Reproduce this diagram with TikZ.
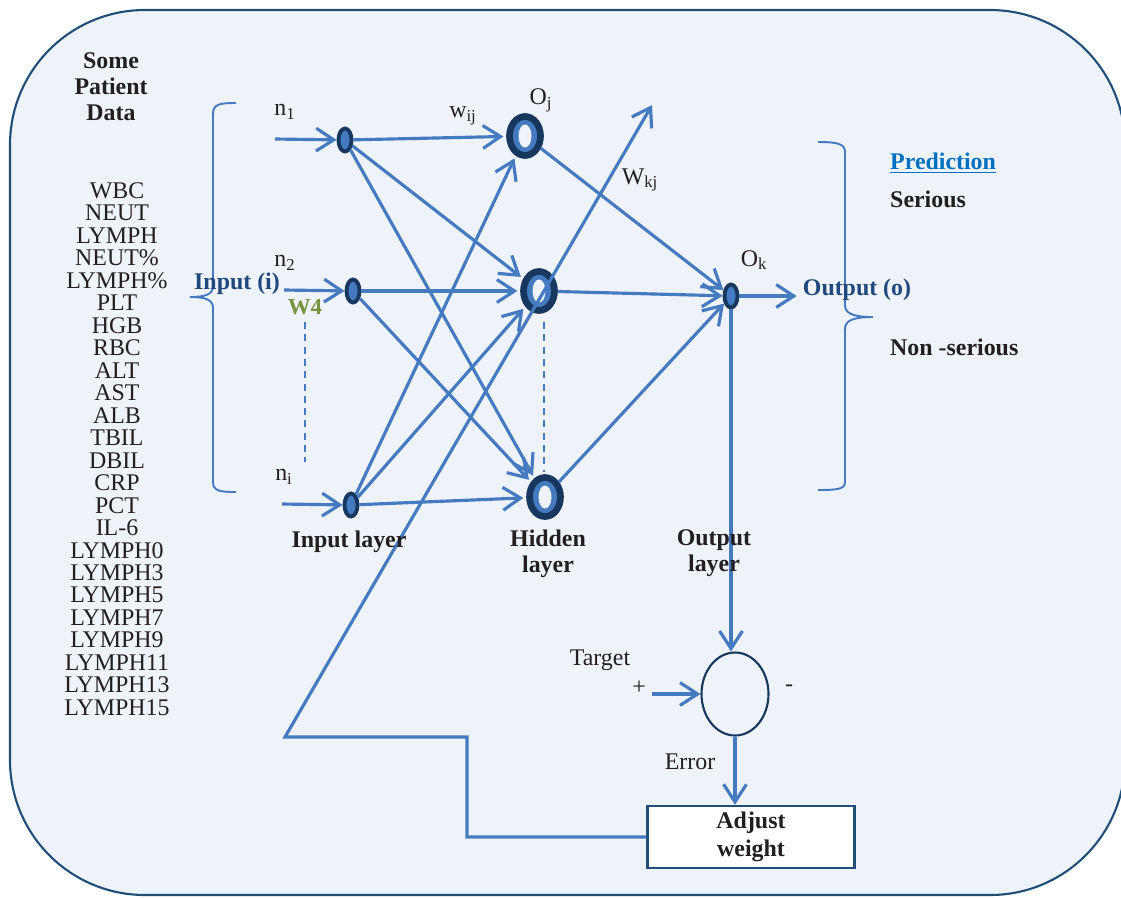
\documentclass[tikz,border=0pt]{standalone}
\usepackage{fontspec}
\setmainfont{Liberation Serif}
\usepackage{xcolor}
\usepackage{tikz}
\usetikzlibrary{shapes.geometric,arrows.meta}

\definecolor{bgfill}{RGB}{238,243,250}
\definecolor{rimblue}{RGB}{31,78,121}
\definecolor{linkblue}{RGB}{68,123,192}
\definecolor{nodenavy}{RGB}{23,55,94}
\definecolor{labelblue}{RGB}{31,73,125}
\definecolor{predblue}{RGB}{0,112,192}
\definecolor{wgreen}{RGB}{119,147,60}
\definecolor{inkdark}{RGB}{35,31,32}

\begin{document}
\begin{tikzpicture}[x=0.02cm,y=-0.02cm,
    font=\fontsize{13.6}{12.8}\selectfont, text=inkdark,
    link/.style={draw=linkblue, line width=1.8pt, -{Straight Barb[length=10pt,width=13pt]}},
    tohid/.style={link, shorten >=1.6pt},
    innode/.style={ellipse, draw=nodenavy, fill=linkblue, line width=2.2pt,
        minimum width=0.26cm, minimum height=0.46cm, inner sep=0pt},
    hidnode/.style={ellipse, draw=nodenavy, fill=linkblue, line width=3.8pt,
        minimum width=0.62cm, minimum height=0.78cm, inner sep=0pt,
        path picture={\fill[bgfill] (path picture bounding box.center) ellipse (0.13cm and 0.23cm);}},
    sumnode/.style={ellipse, draw=nodenavy, line width=1.2pt, minimum width=1.34cm, minimum height=1.66cm},
    adjbox/.style={draw=rimblue, fill=white, line width=1.4pt, minimum width=4.14cm,
        minimum height=1.24cm, align=center, font=\fontsize{13.6}{15.9}\selectfont\bfseries},
    heading/.style={align=center, font=\fontsize{13.6}{14.8}\selectfont\bfseries},
    brace/.style={draw=linkblue, line width=1.1pt},
    guide/.style={draw=linkblue, line width=1.1pt, dash pattern=on 4pt off 3pt}]
    \useasboundingbox (0,0) rectangle (1121,897);
    \clip (0,0) rectangle (1121,897);
    \draw[rimblue, fill=bgfill, line width=1.2pt, rounded corners=2.7cm] (10,10) rectangle (1125,895);

    % patient data
    \node[heading] (title) at (111,87) {Some\\Patient\\Data};
    \node[align=center] (data) at (117,449) {WBC\\NEUT\\LYMPH\\NEUT\%\\LYMPH\%\\PLT\\HGB\\RBC\\ALT\\AST\\ALB\\TBIL\\DBIL\\CRP\\PCT\\IL-6\\LYMPH0\\LYMPH3\\LYMPH5\\LYMPH7\\LYMPH9\\LYMPH11\\LYMPH13\\LYMPH15};

    \draw[brace] (236,103) .. controls (220,103) and (213,104) .. (213,114) -- (213,286)
        .. controls (213,294) and (206,297) .. (190,297) .. controls (206,297) and (213,300) .. (213,308)
        -- (213,482) .. controls (213,491) and (220,492) .. (236,492);
    \draw[brace] (818,142) .. controls (838,142) and (845,144) .. (845,152) -- (845,305)
        .. controls (845,313) and (852,317) .. (873,317) .. controls (852,317) and (845,321) .. (845,329)
        -- (845,482) .. controls (845,489) and (838,490) .. (818,490);

    \node[font=\fontsize{13.6}{14}\selectfont\bfseries, text=labelblue] (inp) at (237,284) {Input (i)};
    \node[font=\fontsize{13.6}{14}\selectfont\bfseries, text=labelblue] (out) at (857,290) {Output (o)};

    % the network
    \node[innode] (n1) at (345,140) {};
    \node[innode] (n2) at (353,291) {};
    \node[innode] (ni) at (351,505) {};
    \node[hidnode] (h1) at (525,136) {};
    \node[hidnode] (h2) at (539,291) {};
    \node[hidnode] (h3) at (545,497) {};
    \node[innode] (ok) at (731,296) {};
    \node[sumnode] (sum) at (735,694) {};
    \node[adjbox] (adj) at (751,837) {Adjust\\weight};

    \node (ln1) at (285,112) {n\textsubscript{1}};
    \node (ln2) at (285,263) {n\textsubscript{2}};
    \node (lni) at (284,477) {n\textsubscript{i}};
    \node (wij) at (463,116) {w\textsubscript{ij}};
    \node (oj) at (541,100) {O\textsubscript{j}};
    \node (wkj) at (640,180) {W\textsubscript{kj}};
    \node (lok) at (754,260) {O\textsubscript{k}};
    \node[font=\fontsize{13}{14}\selectfont\bfseries, text=wgreen] (w4) at (305,307) {W4};

    \coordinate (x1) at (275,139);
    \coordinate (x2) at (284,290);
    \coordinate (xi) at (282,504);
    \coordinate (tg) at (652,694);
    \coordinate (fb) at (652,105);

    \draw[link] (x1) -- (n1);
    \draw[link] (x2) -- (n2);
    \draw[link] (xi) -- (ni);
    \foreach \a/\b in {n1/h1,n1/h2,n1/h3,n2/h2,n2/h3,ni/h1,ni/h2,ni/h3}
        \draw[tohid] (\a) -- (\b);
    \foreach \b in {h1,h2,h3}
        \draw[link] (\b) -- (ok);
    \draw[link] (ok) -- (ok -| out.west);
    \draw[link] (ok) -- (ok |- sum.north);
    \draw[link] (tg) -- (sum);
    \draw[link] (sum) -- (sum |- adj.north);
    % feedback to the weights
    \draw[link] (adj.west) -| (467,737) -- (285,737) -- (fb);

    \draw[guide] (305,322) -- (305,462);
    \draw[guide] (544,322) -- (544,472);

    \node[heading] (linp) at (349,542) {Input layer};
    \node[heading] (lhid) at (548,554) {Hidden\\layer};
    \node[heading] (lout) at (714,553) {Output\\layer};

    \node[heading, anchor=west, text=predblue] (pred) at (884,163) {\underline{Prediction}};
    \node[heading, anchor=west] (ser) at (884,199) {Serious};
    \node[heading, anchor=west] (nser) at (884,347) {Non -serious};

    \node (ltg) at (600,660) {Target};
    \node (plus) at (639,688) {+};
    \node (minus) at (789,688) {-};
    \node (err) at (690,762) {Error};
\end{tikzpicture}
\end{document}
